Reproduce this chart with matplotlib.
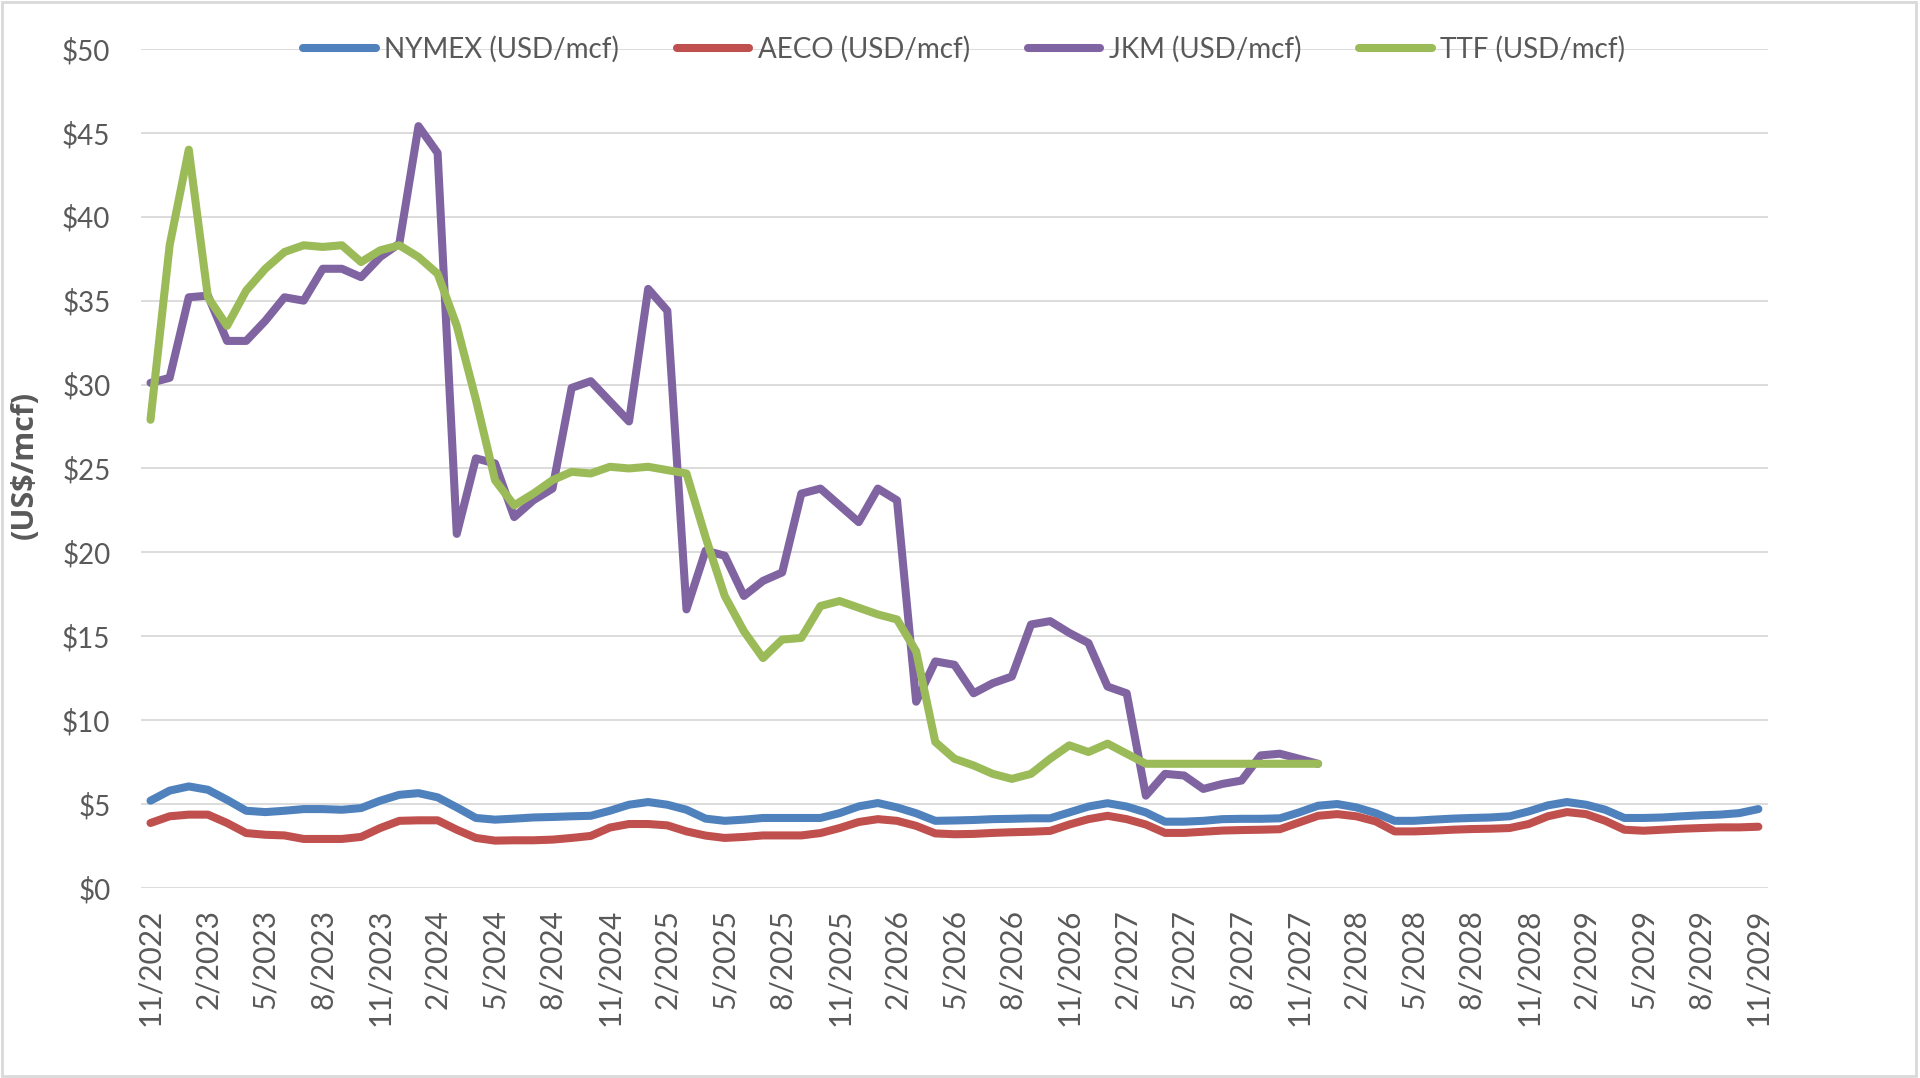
import pandas as pd
import matplotlib
matplotlib.use('Agg')
import matplotlib.pyplot as plt
from matplotlib.patches import Rectangle

plt.rcParams['font.family'] = ['Lato', 'DejaVu Sans']

# monthly categories 11/2022 .. 11/2029
months = pd.date_range('2022-11-01', periods=85, freq='MS')
month_labels = [f'{d.month}/{d.year}' for d in months]

nymex = [5.2, 5.8, 6.05, 5.85, 5.25, 4.6, 4.52, 4.6, 4.7, 4.7, 4.66, 4.76,
         5.2, 5.55, 5.65, 5.4, 4.8, 4.17, 4.07, 4.13, 4.2, 4.23, 4.27, 4.3,
         4.6, 4.96, 5.12, 4.96, 4.66, 4.13, 4.0, 4.07, 4.17, 4.17, 4.17, 4.17,
         4.46, 4.86, 5.06, 4.8, 4.45, 4.0, 4.02, 4.05, 4.1, 4.12, 4.15, 4.15,
         4.5, 4.85, 5.05, 4.85, 4.5, 3.95, 3.95, 4.0, 4.1, 4.12, 4.12, 4.15,
         4.5, 4.9, 5.0, 4.8, 4.46, 4.0, 4.0, 4.07, 4.13, 4.17, 4.2, 4.27,
         4.56, 4.92, 5.12, 4.96, 4.66, 4.17, 4.17, 4.2, 4.27, 4.33, 4.37, 4.46,
         4.7]

aeco = [3.87, 4.27, 4.37, 4.37, 3.87, 3.27, 3.17, 3.13, 2.92, 2.92, 2.92, 3.04,
        3.57, 4.0, 4.03, 4.03, 3.47, 2.98, 2.82, 2.84, 2.84, 2.88, 2.98, 3.1,
        3.6, 3.81, 3.81, 3.73, 3.37, 3.12, 2.98, 3.04, 3.13, 3.13, 3.13, 3.27,
        3.57, 3.93, 4.1, 4.0, 3.7, 3.25, 3.2, 3.22, 3.28, 3.32, 3.35, 3.4,
        3.78, 4.1, 4.3, 4.1, 3.78, 3.28, 3.28, 3.35, 3.42, 3.45, 3.47, 3.5,
        3.9, 4.3, 4.4, 4.27, 3.97, 3.37, 3.37, 3.41, 3.47, 3.51, 3.53, 3.57,
        3.81, 4.27, 4.52, 4.4, 4.0, 3.47, 3.41, 3.47, 3.53, 3.57, 3.61, 3.61,
        3.65]

jkm = [30.1, 30.4, 35.2, 35.3, 32.6, 32.6, 33.8, 35.2, 35.0, 36.9, 36.9, 36.4,
       37.6, 38.4, 45.4, 43.8, 21.1, 25.6, 25.3, 22.1, 23.1, 23.8, 29.8, 30.2,
       29.0, 27.8, 35.7, 34.4, 16.6, 20.1, 19.8, 17.4, 18.3, 18.8, 23.5, 23.8,
       22.8, 21.8, 23.8, 23.1, 11.1, 13.5, 13.3, 11.6, 12.2, 12.6, 15.7, 15.9,
       15.2, 14.6, 12.0, 11.6, 5.5, 6.8, 6.7, 5.9, 6.2, 6.4, 7.9, 8.0,
       7.7, 7.4]

ttf = [27.9, 38.3, 44.0, 35.2, 33.5, 35.6, 36.9, 37.9, 38.3, 38.2, 38.3, 37.3,
       38.0, 38.3, 37.6, 36.6, 33.5, 29.1, 24.3, 22.8, 23.5, 24.3, 24.8, 24.7,
       25.1, 25.0, 25.1, 24.9, 24.7, 20.9, 17.4, 15.3, 13.7, 14.8, 14.9, 16.8,
       17.1, 16.7, 16.3, 16.0, 14.1, 8.7, 7.7, 7.3, 6.8, 6.5, 6.8, 7.7,
       8.5, 8.1, 8.6, 8.0, 7.4, 7.4, 7.4, 7.4, 7.4, 7.4, 7.4, 7.4,
       7.4, 7.4]

series = [
    ('NYMEX (USD/mcf)', nymex, '#4F81BD'),
    ('AECO (USD/mcf)', aeco, '#C0504D'),
    ('JKM (USD/mcf)', jkm, '#8064A2'),
    ('TTF (USD/mcf)', ttf, '#9BBB59'),
]

text_color = '#595959'

fig = plt.figure(figsize=(19.2, 10.78), dpi=100)
ax = fig.add_axes([0.0734, 0.1763, 0.8474, 0.7783])

for name, values, color in series:
    ax.plot(range(len(values)), values, color=color, lw=5.8, label=name,
            solid_joinstyle='round', solid_capstyle='round')

ax.set_xlim(-0.5, len(months) - 0.5)
ax.set_ylim(0, 50)
ax.set_yticks(range(0, 51, 5))
ax.set_yticklabels([f'${v}' for v in range(0, 51, 5)])
ax.set_xticks(range(0, len(months), 3))
ax.set_xticklabels(month_labels[::3], rotation=90)

ax.grid(axis='y', color='#D9D9D9', lw=1.3)
ax.set_axisbelow(True)
for s in ax.spines.values():
    s.set_visible(False)
ax.tick_params(axis='y', length=0, pad=22, labelsize=20, labelcolor=text_color)
ax.tick_params(axis='x', length=0, pad=15, labelsize=21.5, labelcolor=text_color)

leg = ax.legend(loc='center', bbox_to_anchor=(0.506, 1.0), ncol=4, frameon=False,
                fontsize=20, handlelength=2.6, handletextpad=0.3, columnspacing=2.1,
                borderaxespad=0)
for t in leg.get_texts():
    t.set_color(text_color)

fig.text(25 / 1920, 1 - 465 / 1078, '(US$/mcf)', rotation=90, ha='center', va='center',
         fontsize=22, fontweight='bold', color=text_color,
         family=['Open Sans', 'DejaVu Sans'])

fig.patches.append(Rectangle((1.5 / 1920, 2 / 1078), 1914 / 1920, 1074 / 1078,
                             transform=fig.transFigure, fill=False,
                             edgecolor='#D9D9D9', lw=2))

fig.savefig('out.png', dpi=100)
